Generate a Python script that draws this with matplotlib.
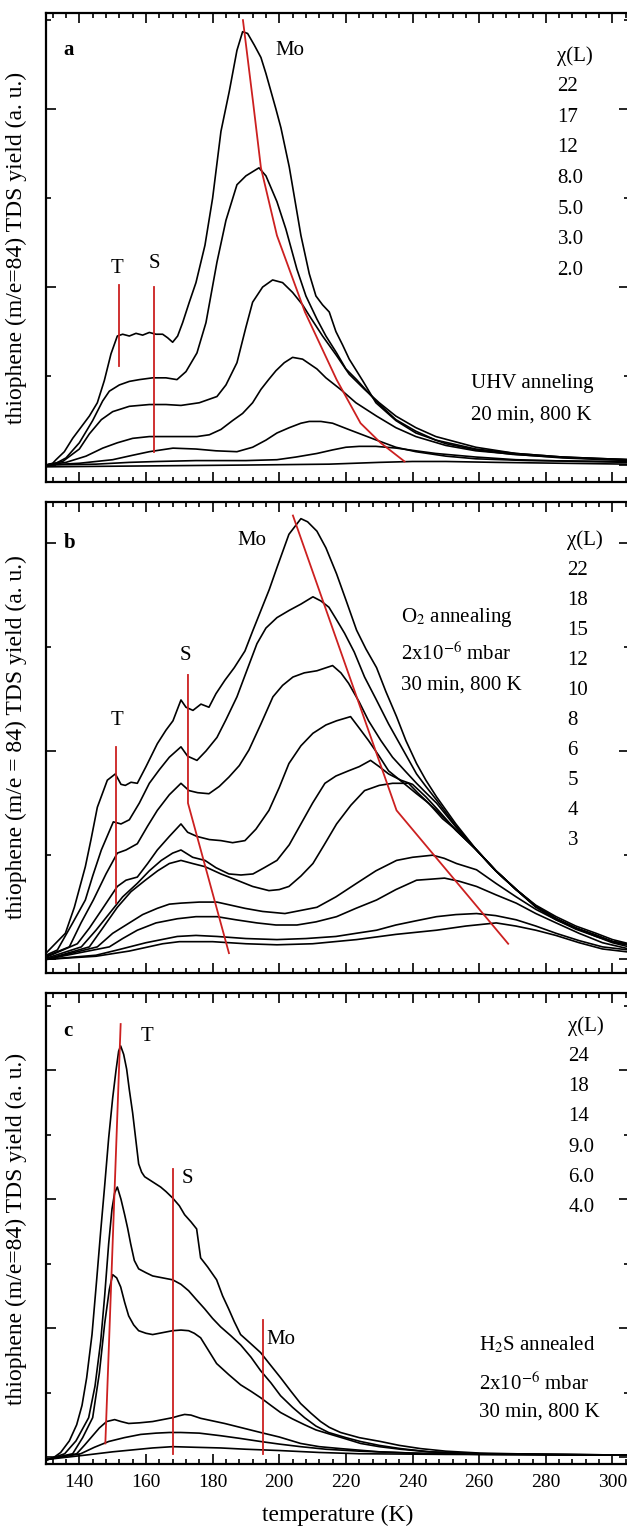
import numpy as np
import matplotlib.pyplot as plt
from matplotlib.ticker import MultipleLocator

plt.rcParams['font.family'] = ['Liberation Serif', 'DejaVu Serif']
plt.rcParams['mathtext.fontset'] = 'stix'

## Panel a - UHV annealed, thiophene TDS for several exposures (L)
a_doses = ['22', '17', '12', '8.0', '5.0', '3.0', '2.0']
a_22 = [(130, 0.0), (132, 0.02), (133, 0.06), (135.5, 0.15), (138, 0.3), (141, 0.45), (143, 0.55), (145.4, 0.70),
        (147.5, 0.95), (149.5, 1.25), (151.4, 1.45), (153, 1.47), (155, 1.45), (157, 1.48), (159, 1.46), (161, 1.49),
        (163, 1.47), (165, 1.47), (166.5, 1.43), (168, 1.38), (169.5, 1.45), (171, 1.6), (173, 1.83), (175, 2.05),
        (177.7, 2.47), (180, 3.0), (182.5, 3.75), (185, 4.2), (187.3, 4.66), (189, 4.87), (190.5, 4.85), (192.5, 4.72),
        (194.5, 4.58), (196, 4.4), (197.5, 4.2), (199, 4.0), (200.5, 3.79), (203, 3.35), (206.5, 2.58), (209, 2.15),
        (211, 1.9), (213, 1.8), (215, 1.72), (217, 1.5), (219, 1.35), (221, 1.19), (225, 0.95), (229, 0.70),
        (235, 0.5), (241, 0.36), (250, 0.24), (259, 0.17), (270, 0.12), (283, 0.09), (295, 0.07), (305, 0.06)]
a_17 = [(130, 0.0), (133, 0.02), (136, 0.08), (140, 0.25), (144, 0.5), (147, 0.72), (149, 0.83), (152, 0.9),
        (155, 0.94), (158, 0.96), (162, 0.98), (166, 0.98), (169.3, 0.96), (172, 1.05), (175.3, 1.26), (178, 1.6),
        (181.3, 2.28), (184, 2.75), (187.3, 3.15), (190, 3.25), (193.9, 3.34), (196, 3.25), (199.3, 2.96), (202, 2.65),
        (205.3, 2.2), (208, 1.9), (211.3, 1.64), (214, 1.45), (217.2, 1.26), (220, 1.08), (223.2, 0.96), (229, 0.72),
        (235, 0.51), (241, 0.38), (247, 0.28), (259, 0.18), (271, 0.13), (285, 0.09), (305, 0.06)]
a_12 = [(130, 0.0), (135, 0.04), (140, 0.18), (143, 0.35), (146.6, 0.51), (150, 0.6), (155, 0.66), (161, 0.68),
        (166, 0.68), (170.5, 0.67), (176, 0.7), (181.3, 0.77), (184, 0.9), (187.3, 1.15), (190, 1.55), (192, 1.83),
        (195, 2.0), (198, 2.08), (201, 2.05), (204, 1.94), (207, 1.8), (209, 1.68), (213, 1.45), (217.2, 1.23),
        (221, 1.02), (225.6, 0.85), (230, 0.7), (235, 0.55), (241, 0.42), (247, 0.32), (259, 0.2), (271, 0.13),
        (285, 0.09), (305, 0.06)]
a_8 = [(130, 0.0), (136, 0.03), (142, 0.1), (147, 0.19), (151.4, 0.25), (156, 0.3), (161, 0.32), (168, 0.32),
       (175.3, 0.32), (179, 0.34), (182.5, 0.40), (186, 0.5), (189, 0.58), (192, 0.70), (194.5, 0.85), (196.8, 0.96),
       (199, 1.06), (201.5, 1.15), (204, 1.21), (207, 1.19), (211.3, 1.08), (214, 0.98), (218.4, 0.85), (223, 0.7),
       (229.2, 0.55), (235, 0.42), (241, 0.32), (250, 0.22), (259, 0.16), (271, 0.12), (285, 0.08), (305, 0.05)]
a_5 = [(130, 0.0), (140, 0.02), (150, 0.06), (156, 0.11), (161, 0.15), (168.1, 0.19), (175, 0.18), (181, 0.16),
       (187.3, 0.15), (192, 0.2), (196, 0.28), (199.3, 0.36), (203, 0.42), (206.5, 0.47), (209, 0.49), (212.5, 0.49),
       (216, 0.47), (220.8, 0.40), (225, 0.34), (229.2, 0.28), (235, 0.2), (241, 0.15), (250, 0.1), (259, 0.07),
       (275, 0.05), (305, 0.04)]
a_3 = [(130, 0.0), (145, 0.01), (155, 0.03), (163.4, 0.04), (175, 0.05), (190, 0.05), (199.3, 0.06), (205, 0.09),
       (211.3, 0.13), (216, 0.17), (220, 0.2), (224, 0.21), (229, 0.21), (235.2, 0.19), (241, 0.16), (247, 0.13),
       (259, 0.09), (271, 0.06), (290, 0.04), (305, 0.03)]
a_2 = [(130, -0.02), (160, -0.01), (190, 0.0), (215, 0.01), (230, 0.03), (240, 0.04), (250, 0.04), (265, 0.03),
       (285, 0.02), (305, 0.01)]
a_T_line = [(152.0, 2.02), (152.0, 1.11)]
a_S_line = [(162.4, 2.0), (162.4, 0.15)]
a_Mo_line = [(189.1, 5.0), (192.1, 4.09), (194.5, 3.34), (199.3, 2.58), (207.7, 1.72), (217.2, 0.96),
             (224.4, 0.47), (230.4, 0.25), (237.6, 0.04)]

## Panel b - O2 annealed
b_doses = ['22', '18', '15', '12', '10', '8', '6', '5', '4', '3']
b_22 = [(130, 0.06), (135.8, 0.25), (138.5, 0.5), (141.8, 0.89), (143.5, 1.15), (145.4, 1.46), (148.4, 1.72),
        (150.8, 1.78), (152.5, 1.68), (153.8, 1.67), (155.5, 1.7), (157.4, 1.69), (160, 1.85), (163.4, 2.07),
        (166, 2.2), (168.1, 2.29), (170.5, 2.49), (172, 2.42), (174.1, 2.39), (176.5, 2.45), (178.9, 2.42),
        (181, 2.55), (183.7, 2.68), (186.5, 2.8), (189.7, 2.96), (192, 3.15), (194.5, 3.35), (197, 3.55),
        (199.3, 3.76), (202.9, 4.08), (206.5, 4.23), (208.5, 4.2), (211.3, 4.11), (214, 3.95), (217.2, 3.7),
        (220, 3.45), (223.2, 3.16), (226, 2.98), (229.2, 2.8), (232, 2.57), (235.2, 2.33), (238, 2.1), (241.2, 1.88),
        (244, 1.72), (247.2, 1.56), (253, 1.3), (259.2, 1.05), (265, 0.85), (271.1, 0.67), (277, 0.52),
        (283.1, 0.41), (289, 0.32), (295.1, 0.25), (300, 0.19), (305, 0.15)]
b_18 = [(130, 0.04), (133.4, 0.09), (138, 0.35), (141.8, 0.57), (144, 0.8), (146.6, 1.05), (150.2, 1.32),
        (152.5, 1.3), (155, 1.34), (158, 1.5), (161, 1.69), (164, 1.82), (167, 1.94), (170.5, 2.04), (172.5, 1.95),
        (175.3, 1.91), (178, 2.0), (181.3, 2.13), (184, 2.3), (187.3, 2.52), (190, 2.75), (193.3, 3.03), (196, 3.18),
        (199.3, 3.28), (203, 3.35), (206.5, 3.41), (210.1, 3.48), (212.5, 3.44), (214.9, 3.38), (217, 3.27),
        (219.6, 3.13), (222.5, 2.95), (225.6, 2.71), (229, 2.5), (232.8, 2.26), (237, 2.02), (241.2, 1.78),
        (244, 1.66), (247.2, 1.53), (253, 1.28), (259.2, 1.05), (265, 0.85), (271.1, 0.67), (277, 0.5),
        (283.1, 0.38), (289, 0.29), (295.1, 0.22), (300, 0.17), (305, 0.14)]
b_15 = [(130, 0.03), (137, 0.12), (140.5, 0.35), (144.2, 0.57), (148, 0.82), (151.4, 1.02), (154, 1.05),
        (157.4, 1.11), (160.5, 1.28), (163.4, 1.43), (167, 1.58), (170.5, 1.69), (172.9, 1.62), (175.5, 1.6),
        (178.9, 1.59), (182, 1.66), (184.9, 1.75), (188, 1.86), (190.9, 2.01), (194.5, 2.26), (198.1, 2.52),
        (201, 2.63), (204.1, 2.71), (207.5, 2.75), (211.3, 2.77), (216, 2.82), (218.5, 2.75), (220.8, 2.65),
        (224, 2.47), (226.8, 2.29), (230.5, 2.1), (234, 1.94), (238, 1.8), (241.2, 1.69), (244, 1.6), (247.2, 1.5),
        (253, 1.27), (259.2, 1.05), (265, 0.85), (271.1, 0.67), (277, 0.51), (283.1, 0.39), (289, 0.3),
        (295.1, 0.23), (300, 0.17), (305, 0.14)]
b_12 = [(130, 0.02), (139.4, 0.15), (143, 0.3), (146.6, 0.47), (151.4, 0.7), (154, 0.76), (157.4, 0.79),
        (160.5, 0.92), (163.4, 1.05), (167, 1.18), (170.5, 1.3), (172.5, 1.22), (175.3, 1.18), (179, 1.15),
        (182.5, 1.14), (186, 1.12), (189.7, 1.14), (193, 1.25), (196.9, 1.43), (200, 1.65), (202.9, 1.88),
        (206.5, 2.05), (210.1, 2.17), (214, 2.25), (217.2, 2.29), (221.4, 2.33), (224, 2.22), (226.8, 2.1),
        (230, 1.95), (232.8, 1.81), (237, 1.7), (241.2, 1.59), (244, 1.52), (247.2, 1.43), (253, 1.24),
        (259.2, 1.05), (265, 0.85), (271.1, 0.67), (277, 0.51), (283.1, 0.39), (289, 0.3), (295.1, 0.23),
        (300, 0.17), (305, 0.14)]
b_10 = [(130, 0.01), (140.6, 0.12), (145, 0.28), (149, 0.44), (153, 0.6), (157.4, 0.73), (161, 0.85),
        (164.6, 0.95), (168, 1.02), (170.5, 1.05), (174, 0.98), (177.7, 0.95), (181, 0.88), (184.9, 0.82),
        (188.5, 0.81), (192.1, 0.82), (195.5, 0.88), (199.3, 0.95), (203, 1.1), (206.5, 1.3), (210, 1.5),
        (213.7, 1.69), (217, 1.76), (220.8, 1.81), (224, 1.85), (227.4, 1.91), (230, 1.85), (232.8, 1.78),
        (236.5, 1.72), (240, 1.68), (244, 1.56), (247.2, 1.45), (253, 1.24), (259.2, 1.05), (265, 0.85),
        (271.1, 0.67), (277, 0.51), (283.1, 0.39), (289, 0.3), (295.1, 0.23), (300, 0.17), (305, 0.14)]
b_8 = [(130, 0.0), (143, 0.12), (147, 0.3), (151.4, 0.5), (155.5, 0.65), (159.8, 0.76), (163.5, 0.85), (167, 0.92),
       (170.5, 0.95), (174, 0.92), (177.7, 0.89), (182.5, 0.82), (187.3, 0.76), (192, 0.7), (196.9, 0.66),
       (200, 0.67), (202.9, 0.7), (206.5, 0.8), (210.1, 0.92), (213.5, 1.1), (217.2, 1.3), (221.5, 1.48),
       (225.6, 1.62), (230, 1.67), (234, 1.69), (238.8, 1.69), (241.5, 1.6), (244.8, 1.5), (249, 1.35),
       (253.2, 1.24), (259.2, 1.05), (265, 0.85), (271.1, 0.67), (277, 0.51), (283.1, 0.39), (289, 0.3),
       (295.1, 0.23), (300, 0.17), (305, 0.14)]
b_6 = [(130, 0.0), (145.4, 0.12), (150, 0.25), (155, 0.35), (159, 0.43), (163.4, 0.49), (167, 0.53), (170.5, 0.54),
       (176, 0.55), (181.3, 0.55), (185.5, 0.52), (189.7, 0.49), (195, 0.46), (201.7, 0.44), (206.5, 0.47),
       (211.3, 0.5), (217, 0.6), (223.2, 0.73), (229, 0.85), (235.2, 0.95), (240, 0.98), (246, 1.0), (249.5, 0.97),
       (253.2, 0.92), (259.2, 0.86), (265, 0.73), (271.1, 0.6), (277, 0.48), (283.1, 0.38), (289, 0.3),
       (295.1, 0.22), (300, 0.16), (305, 0.12)]
b_5 = [(130, 0.0), (149, 0.12), (153, 0.2), (157.4, 0.28), (163, 0.35), (169.4, 0.39), (175, 0.41), (181.3, 0.41),
       (187, 0.38), (193.3, 0.35), (199, 0.33), (205.3, 0.33), (211, 0.36), (217.2, 0.41), (223, 0.49),
       (229.2, 0.57), (235, 0.67), (241.2, 0.76), (245.5, 0.77), (249.6, 0.78), (254, 0.75), (259.2, 0.7),
       (265, 0.62), (271.1, 0.54), (277, 0.44), (283.1, 0.35), (290, 0.25), (297, 0.16), (305, 0.1)]
b_4 = [(130, 0.0), (145, 0.04), (151.4, 0.09), (160, 0.16), (169.4, 0.22), (175, 0.23), (181.3, 0.22), (190, 0.2),
       (199.3, 0.19), (208, 0.2), (217, 0.22), (223, 0.25), (229.2, 0.28), (235, 0.33), (241, 0.37), (247.2, 0.41),
       (253, 0.43), (259.2, 0.44), (265, 0.42), (271.1, 0.38), (277, 0.32), (283.1, 0.25), (290, 0.18),
       (297, 0.12), (305, 0.09)]
b_3 = [(130, 0.0), (145, 0.03), (155, 0.08), (165, 0.15), (170, 0.17), (180, 0.17), (190, 0.15), (199.3, 0.14),
       (210, 0.15), (223.2, 0.19), (235, 0.24), (247.2, 0.28), (256, 0.32), (265.1, 0.35), (271, 0.32), (277, 0.28),
       (283, 0.23), (290, 0.16), (297, 0.1), (305, 0.07)]
b_T_line = [(151.1, 2.04), (151.1, 0.54)]
b_S_line = [(172.6, 2.73), (172.6, 1.50), (184.9, 0.06)]
b_Mo_line = [(204.1, 4.26), (235.2, 1.43), (268.7, 0.15)]

## Panel c - H2S annealed
c_doses = ['24', '18', '14', '9.0', '6.0', '4.0']
c_24 = [(130, -0.05), (132, -0.02), (134.4, 0.07), (137, 0.25), (139.2, 0.5), (140.8, 0.8), (142.2, 1.23),
        (143.8, 1.9), (145.2, 2.75), (146.4, 3.5), (147.6, 4.21), (148.8, 4.95), (150, 5.57), (151, 6.0),
        (151.8, 6.3), (152.4, 6.38), (153.3, 6.25), (154.2, 6.02), (155, 5.7), (156, 5.34), (157, 4.9),
        (157.8, 4.55), (158.7, 4.42), (159.6, 4.35), (162, 4.27), (164.4, 4.19), (166, 4.12), (168, 4.02),
        (170, 3.9), (171.6, 3.76), (173.5, 3.65), (175.2, 3.54), (176.4, 3.09), (178.5, 2.95), (181.2, 2.75),
        (183, 2.5), (184.8, 2.3), (186.5, 2.1), (188.4, 1.9), (191, 1.78), (194.4, 1.62), (197, 1.45), (200.4, 1.23),
        (203.5, 1.02), (206.4, 0.83), (209.5, 0.68), (212.4, 0.55), (215, 0.46), (218.4, 0.38), (224, 0.3),
        (230.4, 0.24), (236, 0.18), (242.4, 0.13), (250, 0.09), (260.4, 0.06), (280, 0.04), (305, 0.03)]
c_18 = [(130, -0.05), (135.6, 0.05), (139, 0.25), (142.8, 0.61), (144.7, 1.1), (146.4, 1.79), (147.6, 2.5),
        (148.8, 3.31), (149.8, 3.85), (150.6, 4.1), (151.4, 4.19), (152.5, 4.0), (153.6, 3.76), (154.5, 3.55),
        (155.4, 3.31), (156.5, 3.05), (157.8, 2.92), (160, 2.86), (162, 2.81), (165, 2.78), (168, 2.75),
        (170.5, 2.68), (172.8, 2.58), (175, 2.45), (177.6, 2.3), (180, 2.15), (182.4, 2.02), (185.5, 1.88),
        (188.4, 1.74), (191.5, 1.55), (194.4, 1.34), (197.5, 1.15), (200.4, 0.95), (204, 0.77), (207.6, 0.61),
        (211, 0.48), (214.8, 0.38), (220, 0.3), (224.4, 0.24), (230, 0.18), (236.4, 0.13), (245, 0.08),
        (260, 0.05), (280, 0.04), (305, 0.03)]
c_14 = [(130, -0.04), (138, 0.05), (141, 0.3), (144, 0.61), (146, 1.3), (147.6, 2.07), (149, 2.6), (150, 2.83),
        (151.2, 2.78), (152.4, 2.64), (153.6, 2.4), (154.8, 2.19), (156.3, 2.05), (157.8, 1.96), (160, 1.92),
        (162, 1.9), (165, 1.93), (168, 1.96), (170.5, 1.97), (172.8, 1.96), (174.5, 1.92), (176.4, 1.85),
        (178.8, 1.65), (181.2, 1.45), (184.8, 1.28), (188.4, 1.12), (191.5, 1.02), (194.4, 0.92), (197.5, 0.8),
        (200.4, 0.69), (204, 0.59), (207.6, 0.5), (211, 0.42), (214.8, 0.36), (220, 0.28), (224.4, 0.21),
        (230, 0.16), (236.4, 0.12), (245, 0.08), (260, 0.05), (280, 0.04), (305, 0.03)]
c_9 = [(130, -0.04), (139.2, 0.05), (141.5, 0.18), (144, 0.33), (146, 0.45), (148.2, 0.55), (150.6, 0.58),
       (152.5, 0.55), (154.8, 0.52), (158, 0.53), (162, 0.55), (165, 0.58), (168, 0.61), (170, 0.64), (171.6, 0.66),
       (173.5, 0.65), (176.4, 0.6), (180, 0.56), (183.6, 0.52), (189, 0.45), (194.4, 0.38), (200, 0.31),
       (206.4, 0.21), (212, 0.16), (218.4, 0.13), (230, 0.08), (245, 0.05), (270, 0.04), (305, 0.03)]
c_6 = [(130, -0.04), (140.4, 0.05), (144.5, 0.15), (148.8, 0.24), (153.5, 0.3), (158.4, 0.35), (163, 0.37),
       (167, 0.38), (170.4, 0.38), (176, 0.37), (182.4, 0.33), (188, 0.29), (194.4, 0.24), (200, 0.2),
       (206.4, 0.16), (214, 0.12), (224, 0.09), (240, 0.06), (260, 0.04), (305, 0.03)]
c_4 = [(130, -0.04), (142, 0.03), (150, 0.08), (156, 0.11), (162, 0.14), (168, 0.16), (175, 0.15), (182.4, 0.14),
       (190, 0.12), (200, 0.1), (212, 0.07), (224, 0.05), (250, 0.04), (305, 0.03)]
c_T_line = [(152.4, 6.72), (147.8, 0.21)]
c_S_line = [(168.0, 4.47), (168.0, 0.05)]
c_Mo_line = [(195.0, 2.13), (195.0, 0.05)]

RED = '#cc2020'
FS = 15


def draw_panel(ax, curves, marks, ylim, ymajor):
    for pts in curves:
        t, y = np.array(pts).T
        ax.plot(t, y, color='black', lw=1.2)
    for pts in marks:
        t, y = np.array(pts).T
        ax.plot(t, y, color=RED, lw=1.3)
    ax.set_xlim(130, 305)
    ax.set_ylim(*ylim)
    ax.xaxis.set_major_locator(MultipleLocator(20))
    ax.xaxis.set_minor_locator(MultipleLocator(4))
    ax.yaxis.set_major_locator(MultipleLocator(ymajor))
    ax.yaxis.set_minor_locator(MultipleLocator(ymajor / 2))
    ax.tick_params(which='both', direction='in', top=True, right=True, labelleft=False, width=1.2)
    ax.tick_params(which='major', length=7)
    ax.tick_params(which='minor', length=3.5)
    for sp in ax.spines.values():
        sp.set_linewidth(1.6)
    ax.yaxis.set_label_coords(-0.033, 0.5)


def dose_column(ax, x, y0, dy, doses):
    ax.text(x, y0, u'\u03c7(L)', fontsize=FS, va='center')
    for i, d in enumerate(doses):
        ax.text(x, y0 - (i + 1) * dy, d, fontsize=FS, va='center')


fig = plt.figure(figsize=(6.27, 15.30), dpi=100)
ax_a = fig.add_axes([0.0734, 0.6850, 0.930, 0.3065])
ax_b = fig.add_axes([0.0734, 0.3641, 0.930, 0.3078])
ax_c = fig.add_axes([0.0734, 0.0431, 0.930, 0.3078])

# a
draw_panel(ax_a, [a_22, a_17, a_12, a_8, a_5, a_3, a_2], [a_T_line, a_S_line, a_Mo_line], (-0.19, 5.08), 2)
ax_a.set_xticklabels([])
ax_a.set_ylabel('thiophene (m/e=84) TDS yield (a. u.)', fontsize=17)
ax_a.text(135.2, 4.66, 'a', fontsize=FS, fontweight='bold', va='center')
ax_a.text(198.7, 4.66, 'Mo', fontsize=FS, va='center')
ax_a.text(151.4, 2.21, 'T', fontsize=FS, ha='center', va='center')
ax_a.text(162.4, 2.26, 'S', fontsize=FS, ha='center', va='center')
dose_column(ax_a, 283.5, 4.6, 0.345, a_doses)
ax_a.text(257.4, 0.92, 'UHV anneling', fontsize=FS, va='center')
ax_a.text(257.4, 0.56, '20 min, 800 K', fontsize=FS, va='center')

# b
draw_panel(ax_b, [b_22, b_18, b_15, b_12, b_10, b_8, b_6, b_5, b_4, b_3], [b_T_line, b_S_line, b_Mo_line],
           (-0.13, 4.39), 2)
ax_b.set_xticklabels([])
ax_b.set_ylabel('thiophene (m/e = 84) TDS yield (a. u.)', fontsize=17)
ax_b.text(135.2, 4.0, 'b', fontsize=FS, fontweight='bold', va='center')
ax_b.text(187.3, 4.02, 'Mo', fontsize=FS, va='center')
ax_b.text(151.4, 2.29, 'T', fontsize=FS, ha='center', va='center')
ax_b.text(171.7, 2.92, 'S', fontsize=FS, ha='center', va='center')
dose_column(ax_b, 286.5, 4.02, 0.288, b_doses)
ax_b.text(236.4, 3.28, r'O$_2$ annealing', fontsize=FS, va='center')
ax_b.text(236.4, 2.93, r'2x10$^{-6}$ mbar', fontsize=FS, va='center')
ax_b.text(236.4, 2.63, '30 min, 800 K', fontsize=FS, va='center')

# c
draw_panel(ax_c, [c_24, c_18, c_14, c_9, c_6, c_4], [c_T_line, c_S_line, c_Mo_line], (-0.11, 7.2), 2)
ax_c.set_ylabel('thiophene (m/e=84) TDS yield (a. u.)', fontsize=17)
ax_c.set_xlabel('temperature (K)', fontsize=17, labelpad=10)
ax_c.tick_params(axis='x', labelsize=14, pad=7)
ax_c.text(135.2, 6.61, 'c', fontsize=FS, fontweight='bold', va='center')
ax_c.text(158.4, 6.52, 'T', fontsize=FS, va='center')
ax_c.text(170.8, 4.33, 'S', fontsize=FS, va='center')
ax_c.text(196.2, 1.82, 'Mo', fontsize=FS, va='center')
dose_column(ax_c, 286.8, 6.69, 0.47, c_doses)
ax_c.text(259.8, 1.74, r'H$_2$S annealed', fontsize=FS, va='center')
ax_c.text(259.8, 1.14, r'2x10$^{-6}$ mbar', fontsize=FS, va='center')
ax_c.text(259.8, 0.69, '30 min, 800 K', fontsize=FS, va='center')

fig.savefig('out.png', dpi=100)
